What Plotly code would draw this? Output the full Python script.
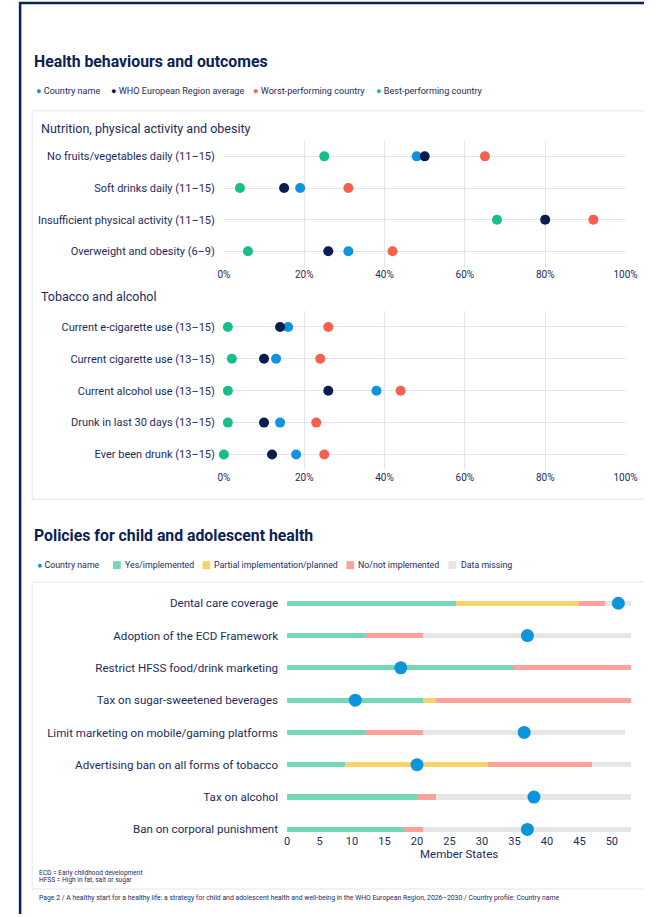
import plotly.graph_objects as go

W, H = 656, 917


def X(px):
    return px / W


def Y(py):
    return 1 - py / H


FONT = "Roboto"
TXT = "#1c2b5e"
TITLE = "#0d1f55"
C_COUNTRY = "#0c94dd"
C_AVG = "#0b1d4f"
C_WORST = "#f6614f"
C_BEST = "#17be8a"
C_YES = "#74d8b7"
C_PART = "#f7d56c"
C_NO = "#fba39a"
C_MISS = "#e6e6e6"
GRID = "#e2e5ed"

# ---------------- data ----------------
nutr_cats = ["No fruits/vegetables daily (11–15)", "Soft drinks daily (11–15)",
             "Insufficient physical activity (11–15)", "Overweight and obesity (6–9)"]
nutr_best = [25, 4, 68, 6]
nutr_worst = [65, 31, 92, 42]
nutr_country = [48, 19, None, 31]
nutr_avg = [50, 15, 80, 26]

tob_cats = ["Current e-cigarette use (13–15)", "Current cigarette use (13–15)",
            "Current alcohol use (13–15)", "Drunk in last 30 days (13–15)",
            "Ever been drunk (13–15)"]
tob_best = [1, 2, 1, 1, 0]
tob_worst = [26, 24, 44, 23, 25]
tob_country = [16, 13, 38, 14, 18]
tob_avg = [14, 10, 26, 10, 12]

pct_ticks = [0, 20, 40, 60, 80, 100]
pct_labels = ["0%", "20%", "40%", "60%", "80%", "100%"]

pol_cats = ["Dental care coverage", "Adoption of the ECD Framework",
            "Restrict HFSS food/drink marketing", "Tax on sugar-sweetened beverages",
            "Limit marketing on mobile/gaming platforms",
            "Advertising ban on all forms of tobacco", "Tax on alcohol",
            "Ban on corporal punishment"]
pol_yes = [26, 12, 35, 21, 12, 9, 20, 18]
pol_partial = [19, 0, 0, 2, 0, 22, 0, 0]
pol_no = [4, 9, 18, 30, 9, 16, 3, 3]
pol_missing = [4, 32, 0, 0, 31, 6, 30, 32]
pol_country = [51, 37, 17.5, 10.5, 36.5, 20, 38, 37]
ms_ticks = [0, 5, 10, 15, 20, 25, 30, 35, 40, 45, 50]

fig = go.Figure()

# ---------------- dot plots ----------------
dot_series = [("best", C_BEST), ("worst", C_WORST), ("country", C_COUNTRY), ("avg", C_AVG)]
nutr = {"best": nutr_best, "worst": nutr_worst, "country": nutr_country, "avg": nutr_avg}
tob = {"best": tob_best, "worst": tob_worst, "country": tob_country, "avg": tob_avg}

for key, col in dot_series:
    fig.add_trace(go.Scatter(x=nutr[key], y=nutr_cats, mode="markers", xaxis="x", yaxis="y",
                             marker=dict(size=10, color=col), cliponaxis=False,
                             hoverinfo="x+y", showlegend=False))
    fig.add_trace(go.Scatter(x=tob[key], y=tob_cats, mode="markers", xaxis="x2", yaxis="y2",
                             marker=dict(size=10, color=col), cliponaxis=False,
                             hoverinfo="x+y", showlegend=False))

# ---------------- policy bars ----------------
for vals, col, name in [(pol_yes, C_YES, "Yes/implemented"),
                        (pol_partial, C_PART, "Partial implementation/planned"),
                        (pol_no, C_NO, "No/not implemented"),
                        (pol_missing, C_MISS, "Data missing")]:
    fig.add_trace(go.Bar(x=vals, y=pol_cats, orientation="h", xaxis="x3", yaxis="y3",
                         marker=dict(color=col, line=dict(width=0)), width=0.16,
                         name=name, showlegend=False))
fig.add_trace(go.Scatter(x=pol_country, y=pol_cats, mode="markers", xaxis="x3", yaxis="y3",
                         marker=dict(size=13, color=C_COUNTRY), cliponaxis=False,
                         showlegend=False))

pct_axis = dict(range=[0, 100], tickmode="array", tickvals=pct_ticks, ticktext=pct_labels,
                showgrid=True, gridcolor=GRID, gridwidth=1, zeroline=False, showline=False,
                tickfont=dict(family=FONT, size=10, color=TXT), ticks="", fixedrange=True)
cat_axis = dict(showgrid=True, gridcolor=GRID, gridwidth=1, zeroline=False, showline=False,
                tickfont=dict(family=FONT, size=11, color=TXT), ticks="",
                ticklabelstandoff=8, type="category", fixedrange=True)

fig.update_layout(
    autosize=True, margin=dict(l=0, r=0, t=0, b=0),
    paper_bgcolor="white", plot_bgcolor="white", showlegend=False,
    barmode="stack", bargap=0,
    font=dict(family=FONT, color=TXT),
    xaxis=dict(pct_axis, domain=[X(224), X(637)], anchor="y"),
    yaxis=dict(cat_axis, domain=[Y(268), Y(141)], anchor="x",
               categoryarray=nutr_cats, range=[3.5, -0.5]),
    xaxis2=dict(pct_axis, domain=[X(224), X(637)], anchor="y2"),
    yaxis2=dict(cat_axis, domain=[Y(472), Y(312)], anchor="x2",
                categoryarray=tob_cats, range=[4.5, -0.5]),
    xaxis3=dict(range=[0, 53], domain=[X(289), X(643)], anchor="y3", tickvals=ms_ticks,
                showgrid=False, zeroline=False, showline=False, ticks="",
                tickfont=dict(family=FONT, size=11, color=TXT), fixedrange=True),
    yaxis3=dict(domain=[Y(836), Y(589)], anchor="x3", type="category",
                categoryarray=pol_cats, range=[7.12, -0.5], showgrid=False,
                zeroline=False, showline=False, ticks="", ticklabelstandoff=8,
                tickfont=dict(family=FONT, size=11.6, color=TXT), fixedrange=True),
)

shapes = []
# navy frame
shapes.append(dict(type="line", xref="paper", yref="paper", x0=X(14.5), x1=X(14.5),
                   y0=Y(2), y1=0, line=dict(color="#0b1f5c", width=2.5)))
shapes.append(dict(type="line", xref="paper", yref="paper", x0=X(13.5), x1=1,
                   y0=Y(3), y1=Y(3), line=dict(color="#0b1f5c", width=2.5)))
# panels (open on the right side, as in the page layout)
for y0, y1 in [(111, 501), (584, 892)]:
    shapes.append(dict(type="path", xref="paper", yref="paper",
                       path=f"M 1,{Y(y0)} L {X(27)},{Y(y0)} L {X(27)},{Y(y1)} L 1,{Y(y1)}",
                       line=dict(color="#eceef3", width=1.5), layer="below"))
# legend squares (policy)
for xs, col in [(110, C_YES), (202, C_PART), (350, C_NO), (455, C_MISS)]:
    shapes.append(dict(type="rect", xref="paper", yref="paper", x0=X(xs), x1=X(xs + 8),
                       y0=Y(571), y1=Y(563), line=dict(width=0), fillcolor=col))
fig.update_layout(shapes=shapes)

ann = []


def text(x, y, s, size, color=TXT, bold=False, xanchor="left"):
    ann.append(dict(xref="paper", yref="paper", x=X(x), y=Y(y), text=f"<b>{s}</b>" if bold else s,
                    showarrow=False, xanchor=xanchor, yanchor="middle",
                    font=dict(family=FONT, size=size, color=color)))


text(27, 62, "Health behaviours and outcomes", 15.8, TITLE, bold=True)
text(27, 537, "Policies for child and adolescent health", 15.8, TITLE, bold=True)
text(34, 129, "Nutrition, physical activity and obesity", 12.5)
text(34, 297, "Tobacco and alcohol", 12.5)

# legend 1
for xd, col, lab in [(33, C_COUNTRY, "Country name"), (110, C_AVG, "WHO European Region average"),
                     (256, C_WORST, "Worst-performing country"),
                     (382, C_BEST, "Best-performing country")]:
    ann.append(dict(xref="paper", yref="paper", x=X(xd - 4), y=Y(91),
                    text=f"<span style='color:{col}'>●</span> {lab}", showarrow=False,
                    xanchor="left", yanchor="middle",
                    font=dict(family=FONT, size=9.1, color=TXT)))
# legend 2
ann.append(dict(xref="paper", yref="paper", x=X(30), y=Y(567),
                text=f"<span style='color:{C_COUNTRY}'>●</span> Country name", showarrow=False,
                xanchor="left", yanchor="middle", font=dict(family=FONT, size=8.8, color=TXT)))
for xs, lab in [(120, "Yes/implemented"), (212, "Partial implementation/planned"),
                (360, "No/not implemented"), (466, "Data missing")]:
    text(xs, 567, lab, 8.8)

text(466, 857, "Member States", 11.5, xanchor="center")
text(32, 876, "ECD = Early childhood development", 6.6)
text(32, 883, "HFSS = High in fat, salt or sugar", 6.6)
text(32, 901, "Page 2 / A healthy start for a healthy life: a strategy for child and adolescent "
              "health and well-being in the WHO European Region, 2026–2030 / Country profile: "
              "Country name", 6.85)

fig.update_layout(annotations=ann)
post = ("document.documentElement.style.margin='0';document.body.style.margin='0';"
        "document.documentElement.style.overflow='hidden';document.body.style.overflow='hidden';"
        "var gd=document.getElementById('{plot_id}');"
        "gd.style.width='100vw';gd.style.height='100vh';"
        "Plotly.Plots.resize(gd);")
fig.write_html("out.html", config={"displayModeBar": False, "responsive": True},
               default_width="100vw", default_height="100vh", post_script=post)
